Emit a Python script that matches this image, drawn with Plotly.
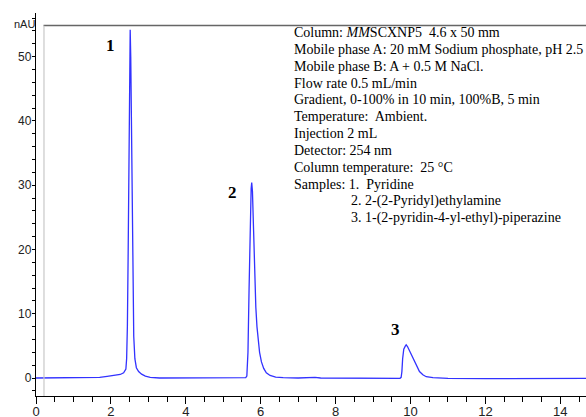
import plotly.graph_objects as go

# Chromatogram trace (time in min, signal in nAU)
time_min = [0.0, 0.5, 1.0, 1.5, 1.7, 1.9, 2.1, 2.25, 2.34, 2.40, 2.42, 2.44, 2.46, 2.48, 2.50, 2.515,
            2.53, 2.55, 2.57, 2.59, 2.61, 2.64, 2.68, 2.74, 2.82, 2.92, 3.05, 3.3, 4.0, 5.0,
            5.5, 5.6, 5.63, 5.66, 5.69, 5.72, 5.745, 5.76, 5.78, 5.81, 5.84, 5.87, 5.90, 5.93,
            5.97, 6.02, 6.08, 6.15, 6.25, 6.4, 6.6, 7.0, 7.45, 7.6, 8.5, 9.5, 9.72, 9.75, 9.77,
            9.79, 9.82, 9.86, 9.885, 9.92, 9.97, 10.06, 10.15, 10.24, 10.33, 10.42, 10.6, 10.8,
            11.0, 12.0, 13.0, 14.7]
signal_nau = [0.0, 0.0, 0.0, 0.0, 0.1, 0.25, 0.4, 0.55, 0.8, 1.4, 3.0, 8.0, 19.0, 36.0, 51.0, 54.2,
              50.0, 36.0, 22.0, 12.0, 6.5, 3.0, 1.6, 1.0, 0.6, 0.3, 0.1, 0.0, 0.0, 0.0,
              0.05, 0.05, 0.3, 4.0, 14.0, 24.0, 29.5, 30.4, 29.0, 23.0, 16.0, 11.0, 8.0, 6.0,
              4.0, 2.5, 1.5, 0.8, 0.4, 0.15, 0.05, 0.0, 0.1, 0.0, -0.05, -0.05, -0.05, 0.1, 1.0,
              3.0, 4.5, 4.95, 5.15, 4.9, 4.3, 3.2, 2.0, 1.0, 0.5, 0.2, 0.05, 0.0,
              -0.05, -0.1, -0.1, -0.05]

peak_labels = ["1", "2", "3"]
peak_label_x = [2.0, 5.25, 9.6]
peak_label_y = [51.8, 28.8, 7.6]

info_lines = [
    "Column: <i>MM</i>SCXNP5  4.6 x 50 mm",
    "Mobile phase A: 20 mM Sodium phosphate, pH 2.5",
    "Mobile phase B: A + 0.5 M NaCl.",
    "Flow rate 0.5 mL/min",
    "Gradient, 0-100% in 10 min, 100%B, 5 min",
    "Temperature:  Ambient.",
    "Injection 2 mL",
    "Detector: 254 nm",
    "Column temperature:  25 \u00b0C",
    "Samples: 1.  Pyridine",
    "2. 2-(2-Pyridyl)ethylamine",
    "3. 1-(2-pyridin-4-yl-ethyl)-piperazine",
]
info_indent = [0, 0, 0, 0, 0, 0, 0, 0, 0, 0, 1, 1]

W, H = 586, 417
# plot area in pixels (paper covers the whole canvas, margins are zero)
AX_L, AX_R, AX_T, AX_B = 36, 586, 13, 396


def px(xp):
    return xp / W


def py(yp):
    return 1 - yp / H


fig = go.Figure()
fig.add_trace(go.Scatter(x=time_min, y=signal_nau, mode="lines",
                         line=dict(color="rgb(50,50,255)", width=1.3),
                         hoverinfo="skip", showlegend=False))

# page-crop border lines of the scanned figure, drawn on a full-canvas pixel overlay axis
fig.add_trace(go.Scatter(x=[8, W], y=[13.5, 13.5], xaxis="x2", yaxis="y2", mode="lines",
                         line=dict(color="#666666", width=1.5), hoverinfo="skip",
                         showlegend=False, cliponaxis=False))
fig.add_trace(go.Scatter(x=[8.5, 8.5], y=[14, H], xaxis="x2", yaxis="y2", mode="lines",
                         line=dict(color="#c8c8c8", width=1.2), hoverinfo="skip",
                         showlegend=False, cliponaxis=False))

annotations = []
for lab, xv, yv in zip(peak_labels, peak_label_x, peak_label_y):
    annotations.append(dict(x=xv, y=yv, xref="x", yref="y", text="<b>" + lab + "</b>", showarrow=False,
                            font=dict(family="Liberation Serif", size=17, color="black"),
                            xanchor="center", yanchor="middle"))

for i, (line, ind) in enumerate(zip(info_lines, info_indent)):
    xpix = 348.5 if ind else 292.0
    ypix = 32.3 + 16.9 * i
    annotations.append(dict(x=px(xpix), y=py(ypix), xref="paper", yref="paper", text=line,
                            showarrow=False, xanchor="left", yanchor="middle",
                            font=dict(family="Liberation Serif", size=14, color="black")))

annotations.append(dict(x=px(37), y=py(24), xref="paper", yref="paper", text="nAU",
                        showarrow=False, xanchor="right", yanchor="middle",
                        font=dict(family="Liberation Sans Narrow, Liberation Sans", size=11, color="#222")))

fig.update_layout(
    width=W, height=H, autosize=False,
    margin=dict(l=0, r=0, t=0, b=0, pad=0, autoexpand=False),
    paper_bgcolor="white", plot_bgcolor="rgba(0,0,0,0)",
    annotations=annotations,
    xaxis=dict(domain=[px(AX_L), px(AX_R)],
               range=[0, (AX_R - AX_L) / 37.45], showgrid=False, zeroline=False, automargin=False,
               showline=True, linecolor="black", linewidth=1.2,
               ticks="outside", ticklen=7, tickcolor="black", dtick=2, tick0=0,
               tickfont=dict(family="Liberation Sans", size=13, color="#222"),
               ticklabelstandoff=-4,
               minor=dict(dtick=0.5, tick0=0, ticks="outside", ticklen=5, tickcolor="black"),
               showticklabels=True),
    yaxis=dict(domain=[py(AX_B), py(AX_T)],
               range=[-2.8, 56.8], showgrid=False, zeroline=False, automargin=False,
               showline=True, linecolor="black", linewidth=1.2,
               ticks="outside", ticklen=3, tickcolor="black", dtick=10, tick0=0,
               tickfont=dict(family="Liberation Sans", size=12, color="#222"),
               ticklabelstandoff=-2,
               minor=dict(dtick=2, tick0=0, ticks="outside", ticklen=3, tickcolor="black")),
    xaxis2=dict(domain=[0, 1], range=[0, W], visible=False, fixedrange=True,
                anchor="y2", overlaying="x"),
    yaxis2=dict(domain=[0, 1], range=[H, 0], visible=False, fixedrange=True,
                anchor="x2", overlaying="y"),
)

fig.write_html("out.html", config={"displayModeBar": False, "staticPlot": True},
               post_script="document.body.style.margin='0';document.body.style.overflow='hidden';")
